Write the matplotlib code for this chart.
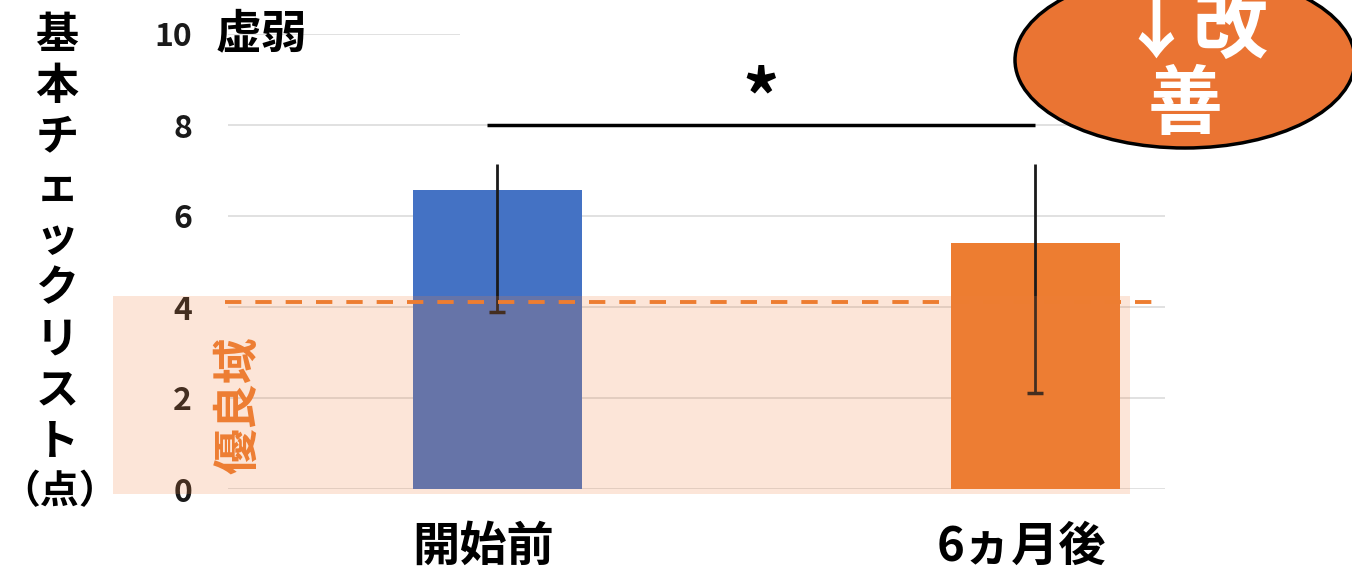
import matplotlib.pyplot as plt
from matplotlib.patches import Ellipse, Rectangle
from matplotlib.transforms import ScaledTranslation

plt.rcParams['font.family'] = ['Noto Sans CJK JP', 'DejaVu Sans']
plt.rcParams['font.weight'] = 'bold'

# data
categories = ["開始前", "6ヵ月後"]
means = [6.57, 5.4]
err_low = [3.9, 2.1]
err_high = [7.15, 7.15]
bar_colors = ["#4472C4", "#ED7D31"]
yticks = [0, 2, 4, 6, 8, 10]
cutoff = 4.1          # dashed line
good_top = 4.25       # top of shaded "優良域" band
sig_level = 8.0
ylabel_lines = ["基", "本", "チ", "ェ", "ッ", "ク", "リ", "ス", "ト", "（点）"]

W, H = 1352, 571
fig = plt.figure(figsize=(W / 100, H / 100), dpi=100)
ax = fig.add_axes([228 / W, 1 - 489 / H, 937 / W, 455 / H])

x = [0, 1]
ax.bar(x, means, width=0.314, color=bar_colors, zorder=2)

# error bars (top end hidden, only lower cap shown)
ax.vlines(x, err_low, err_high, color="#1a1a1a", lw=2.0, zorder=3)
ax.plot(x, err_low, ls="none", marker="_", ms=12, mew=2.5, color="#1a1a1a", zorder=3)

ax.set_xlim(-0.501, 1.241)
ax.set_ylim(0, 10)

# gridlines
for v in yticks[:-1]:
    ax.axhline(v, color="#d9d9d9", lw=1.1, zorder=0)
ax.hlines(10, -0.501, -0.07, color="#d9d9d9", lw=1.1, zorder=0)

# shaded good range, drawn over the bars
ax.add_patch(Rectangle((-0.715, -0.1), 1.891, good_top + 0.1, color="#F07F3C",
                       alpha=0.2, lw=0, zorder=4, clip_on=False))
ax.hlines(cutoff, -0.506, 1.231, color="#ED7D31", lw=2.8, linestyles=(0, (4.2, 3.6)),
          zorder=5, clip_on=False)

# significance
ax.hlines(sig_level, -0.02, 1.0, color="black", lw=2.5, zorder=5, clip_on=False)
ax.text(0.49, 8.5, "*", ha="center", va="center", fontsize=52, color="black")

ax.set_yticks(yticks)
ax.set_yticklabels([str(v) for v in yticks], fontsize=23, color="#1a1a1a")
ax.set_xticks(x)
ax.set_xticklabels(categories, fontsize=34, color="black")
ax.tick_params(axis="y", length=0, pad=26)
ax.tick_params(axis="x", length=0, pad=24)
shift = ScaledTranslation(-14 / 100, 0, fig.dpi_scale_trans)
for lab in ax.get_xticklabels():
    lab.set_transform(lab.get_transform() + shift)
for s in ax.spines.values():
    s.set_visible(False)

ax.text(-0.525, 10.0, "虚弱", ha="left", va="center", fontsize=33, color="black")
ax.text(-0.48, 1.85, "優良域", rotation=90, ha="center", va="center",
        fontsize=33, color="#ED7D31")

# stacked y label
y0, step = 35, 50.7
for i, ch in enumerate(ylabel_lines):
    size = 31 if len(ch) == 1 else 28
    xc = 57 if len(ch) == 1 else 60
    fig.text(xc / W, 1 - (y0 + i * step) / H, ch, ha="center", va="center",
             fontsize=size, color="black")

# orange ellipse badge
fig.patches.append(Ellipse((1185 / W, 1 - 60 / H), 340 / W, 176 / H,
                           transform=fig.transFigure, facecolor="#EA7433",
                           edgecolor="black", lw=2.5))
fig.text(1193 / W, 1 - 30 / H, "↓改", ha="center", va="center", fontsize=54, color="white")
fig.text(1185 / W, 1 - 106 / H, "善", ha="center", va="center", fontsize=54, color="white")

fig.savefig("out.png", dpi=100)
